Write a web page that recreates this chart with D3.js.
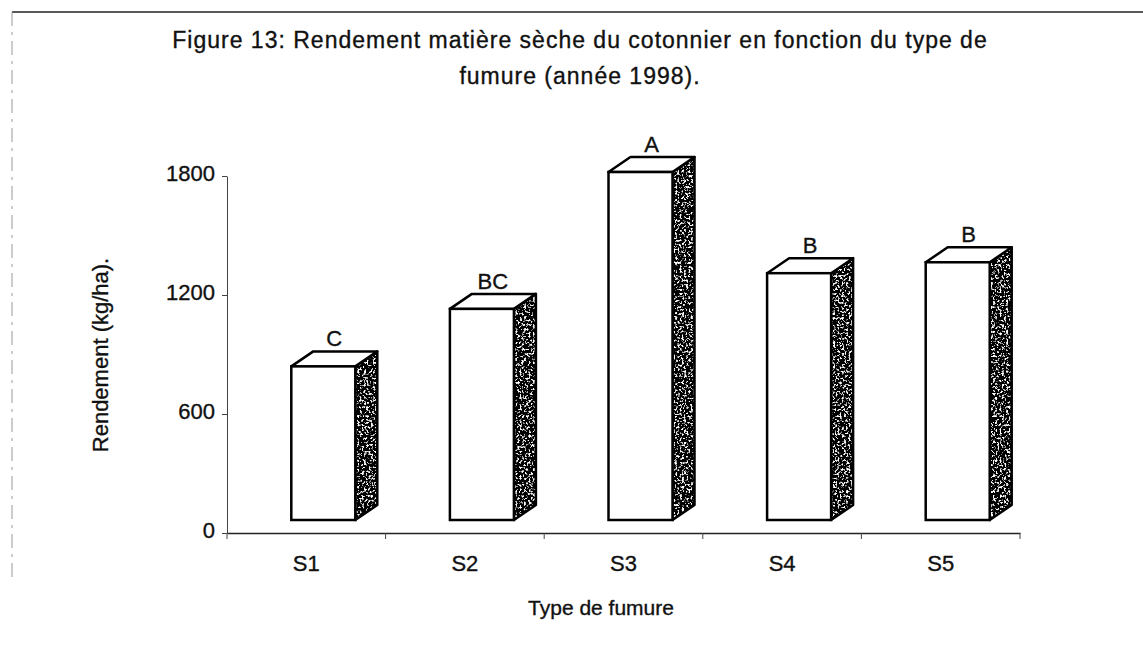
<!DOCTYPE html>
<html>
<head>
<meta charset="utf-8">
<script src="https://cdn.jsdelivr.net/npm/d3@7"></script>
<style>
  body { margin: 0; background: #fff; }
  svg text { font-family: "Liberation Sans", Arial, sans-serif; fill: #111; stroke: #111; stroke-width: 0.35px; }
</style>
</head>
<body>
<svg id="chart" width="1143" height="662"></svg>
<script>
// data
const categories = ["S1", "S2", "S3", "S4", "S5"];
const rendement = [840, 1130, 1820, 1310, 1365];
const groupes = ["C", "BC", "A", "B", "B"];
const yTicks = [0, 600, 1200, 1800];

const svg = d3.select("#chart");

const x = d3.scaleBand().domain(categories).range([227, 1020]);
const y = d3.scaleLinear().domain([0, 1800]).range([533, 176]);

// 3d look of the old chart
const lift = 13, depth = 22, rise = 15, faceW = 64;

// speckled texture for the side faces
const defs = svg.append("defs");
const f = defs.append("filter").attr("id", "speckle")
  .attr("x", 0).attr("y", 0).attr("width", "100%").attr("height", "100%");
f.append("feTurbulence").attr("type", "fractalNoise").attr("baseFrequency", 0.45)
  .attr("numOctaves", 3).attr("seed", 4).attr("result", "n");
f.append("feColorMatrix").attr("in", "n").attr("type", "matrix")
  .attr("values", "7 0 0 0 -3.8  7 0 0 0 -3.8  7 0 0 0 -3.8  0 0 0 0 1").attr("result", "g");
f.append("feComposite").attr("in", "g").attr("in2", "SourceGraphic").attr("operator", "in");

// page frame
svg.append("line").attr("x1", 12).attr("x2", 1143).attr("y1", 12).attr("y2", 12)
  .attr("stroke", "#222").attr("stroke-width", 1.5);
svg.append("line").attr("x1", 12).attr("x2", 12).attr("y1", 12).attr("y2", 580)
  .attr("stroke", "#999").attr("stroke-width", 1).attr("stroke-dasharray", "14 6 3 6");

// title
svg.append("text").attr("x", 580).attr("y", 48).attr("text-anchor", "middle")
  .attr("font-size", 23).attr("letter-spacing", 1)
  .text("Figure 13: Rendement matière sèche du cotonnier en fonction du type de");
svg.append("text").attr("x", 580).attr("y", 84).attr("text-anchor", "middle")
  .attr("font-size", 23).attr("letter-spacing", 1)
  .text("fumure (année 1998).");

// axes
const yAxis = svg.append("g").attr("transform", "translate(227,0)")
  .call(d3.axisLeft(y).tickValues(yTicks).tickFormat(d3.format("d"))
    .tickSize(5).tickSizeOuter(0).tickPadding(7));
yAxis.select(".domain").attr("stroke", "#444");
yAxis.selectAll(".tick line").attr("stroke", "#444");
yAxis.selectAll("text").attr("font-size", 22).attr("dy", "0.2em");

const xAxis = svg.append("g").attr("transform", "translate(0,533)")
  .call(d3.axisBottom(x).tickSize(0).tickSizeOuter(0).tickPadding(22));
xAxis.select(".domain").attr("stroke", "#222").attr("stroke-width", 1.5);
xAxis.selectAll("text").attr("font-size", 22);

const edges = categories.map(c => x(c)).concat([x.range()[1]]);
svg.append("g").selectAll("line").data(edges).enter().append("line")
  .attr("x1", d => d).attr("x2", d => d).attr("y1", 533).attr("y2", 539)
  .attr("stroke", "#444");

// bars
const bars = svg.append("g").selectAll("g").data(categories).enter().append("g");
const fx = c => x(c) + x.bandwidth() / 2 - 15;
const val = (c, i) => rendement[i];
const sidePts = (c, i) => {
  const x1 = fx(c) + faceW, t = y(val(c, i)), b = y(0) - lift;
  return [[x1, t], [x1 + depth, t - rise], [x1 + depth, b - rise], [x1, b]].join(" ");
};

bars.append("polygon") // side face
  .attr("points", sidePts)
  .attr("fill", "#000").attr("filter", "url(#speckle)");
bars.append("polygon")
  .attr("points", sidePts)
  .attr("fill", "none").attr("stroke", "#000").attr("stroke-width", 2.5)
  .attr("stroke-linejoin", "round");
bars.append("polygon") // top face
  .attr("points", (c, i) => {
    const x0 = fx(c), t = y(val(c, i));
    return [[x0, t], [x0 + depth, t - rise], [x0 + faceW + depth, t - rise], [x0 + faceW, t]].join(" ");
  })
  .attr("fill", "#fff").attr("stroke", "#000").attr("stroke-width", 2.5)
  .attr("stroke-linejoin", "round");
bars.append("rect") // front face
  .attr("x", c => fx(c))
  .attr("y", (c, i) => y(val(c, i)))
  .attr("width", faceW)
  .attr("height", (c, i) => y(0) - lift - y(val(c, i)))
  .attr("fill", "#fff").attr("stroke", "#000").attr("stroke-width", 2.5);

// letters of the mean comparison
bars.append("text")
  .attr("x", c => fx(c) + faceW / 2 + depth / 2)
  .attr("y", (c, i) => y(val(c, i)) - rise - 5)
  .attr("text-anchor", "middle").attr("font-size", 22)
  .text((c, i) => groupes[i]);

// axis titles
svg.append("text").attr("transform", "translate(108,355) rotate(-90)")
  .attr("text-anchor", "middle").attr("font-size", 22)
  .text("Rendement (kg/ha).");
svg.append("text").attr("x", 601).attr("y", 615).attr("text-anchor", "middle")
  .attr("font-size", 21).text("Type de fumure");
</script>
</body>
</html>
